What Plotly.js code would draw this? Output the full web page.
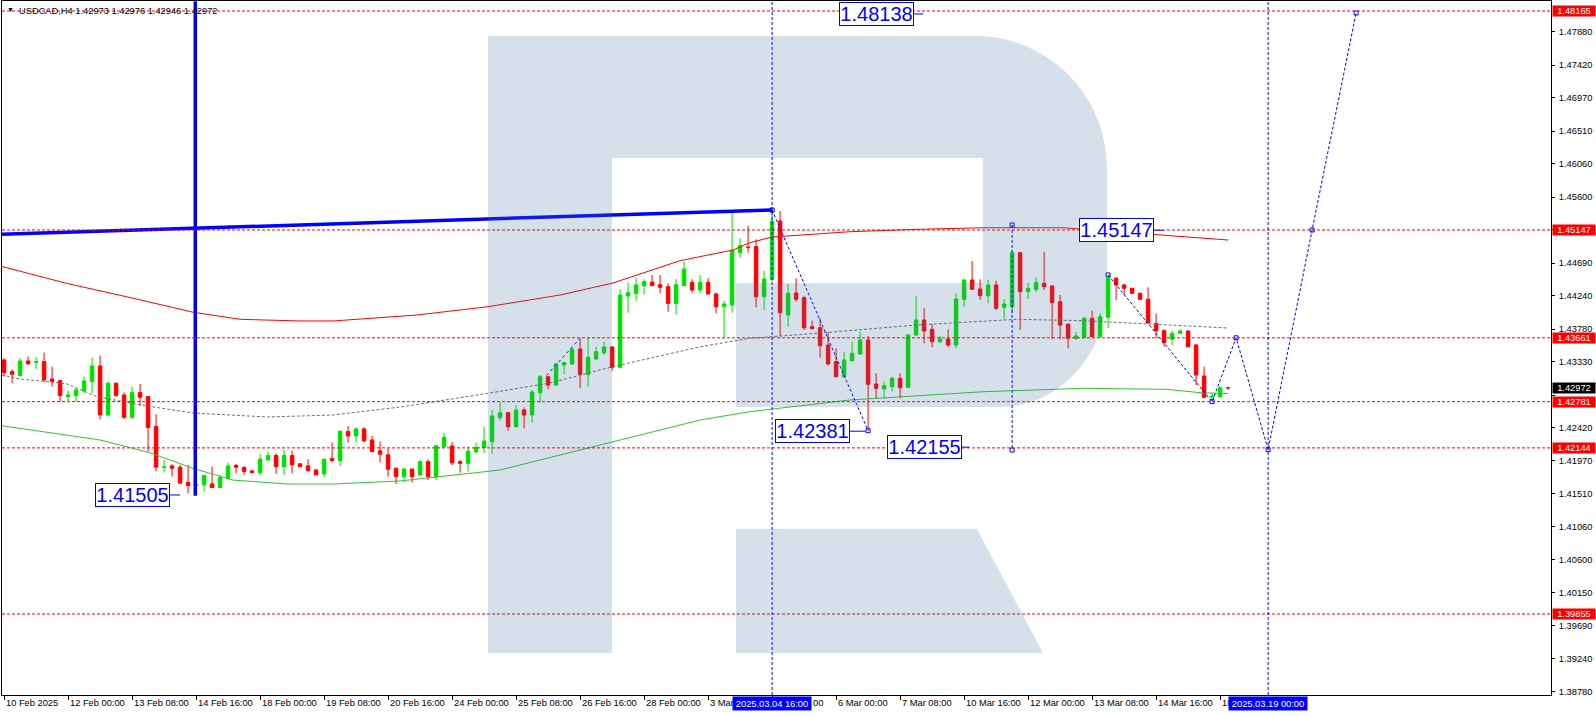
<!DOCTYPE html>
<html><head><meta charset="utf-8">
<script src="https://cdn.plot.ly/plotly-3.0.1.min.js"></script>
<style>html,body{margin:0;padding:0;background:#fff;overflow:hidden}#chart{width:1596px;height:716px}</style>
</head><body><div id="chart"></div>
<script>
// ---------- data ----------
const symbolTitle = "USDCAD,H4 1.42973 1.42976 1.42946 1.42972";
const openP = [1.43356,1.43195,1.43140,1.43342,1.43324,1.43333,1.43094,1.43071,1.42851,1.42865,
 1.42929,1.43058,1.43273,1.42599,1.43035,1.42874,1.42566,1.42906,1.42851,1.42438,
 1.41873,1.41896,1.41878,1.41667,1.41625,1.41635,1.41648,1.41598,1.41726,1.41901,
 1.41873,1.41827,1.41804,1.41979,1.42039,1.41887,1.42039,1.41924,1.41896,1.41841,
 1.41786,1.41997,1.41970,1.42369,1.42309,1.42406,1.42254,1.42103,1.42048,1.41864,
 1.41747,1.41853,1.41770,1.41954,1.41747,1.42161,1.42170,1.41954,1.41931,1.42092,
 1.42147,1.42229,1.42560,1.42629,1.42436,1.42666,1.42597,1.42905,1.43125,1.43010,
 1.43286,1.43300,1.43507,1.43157,1.43369,1.43456,1.43534,1.43254,1.44237,1.44274,
 1.44380,1.44430,1.44393,1.44366,1.44136,1.44380,1.44426,1.44320,1.44426,1.44265,
 1.44090,1.44113,1.44834,1.44912,1.44917,1.44228,1.44467,1.45271,1.43975,1.44279,
 1.44214,1.43814,1.43800,1.43562,1.43332,1.43125,1.43346,1.43438,1.43631,1.43024,
 1.42956,1.42987,1.43103,1.42979,1.43700,1.43906,1.43778,1.43607,1.43645,1.43562,
 1.44192,1.44458,1.44334,1.44241,1.44389,1.44082,1.44090,1.44834,1.44297,1.44329,
 1.44412,1.44375,1.44159,1.43851,1.43654,1.43668,1.43930,1.43676,1.43944,1.44481,
 1.44389,1.44343,1.44274,1.44192,1.43860,1.43759,1.43640,1.43723,1.43755,1.43562,
 1.43135,1.42841,1.42850,1.42973];
const highP = [1.43379,1.43227,1.43379,1.43402,1.43393,1.43457,1.43264,1.43081,1.42934,1.42966,
 1.43126,1.43388,1.43416,1.43058,1.43044,1.42906,1.42989,1.43025,1.42860,1.42608,
 1.41979,1.41919,1.41910,1.41910,1.41700,1.41772,1.41887,1.41772,1.41942,1.41924,
 1.41896,1.41841,1.42057,1.42094,1.42071,1.42117,1.42107,1.41933,1.41988,1.41845,
 1.41997,1.42218,1.42392,1.42447,1.42429,1.42429,1.42309,1.42231,1.42139,1.41873,
 1.41862,1.41853,1.41977,1.41986,1.42184,1.42353,1.42225,1.41977,1.42161,1.42220,
 1.42436,1.42666,1.42772,1.42643,1.42735,1.42703,1.42942,1.43148,1.43134,1.43318,
 1.43332,1.43530,1.43644,1.43667,1.43539,1.43608,1.43548,1.44329,1.44421,1.44481,
 1.44467,1.44526,1.44526,1.44412,1.44471,1.44710,1.44467,1.44526,1.44481,1.44283,
 1.44173,1.45399,1.45032,1.45202,1.45019,1.44582,1.45422,1.45409,1.44403,1.44481,
 1.44240,1.43900,1.43930,1.43745,1.43516,1.43470,1.43607,1.43745,1.43686,1.43172,
 1.43056,1.43125,1.43172,1.43710,1.44241,1.44068,1.43851,1.43686,1.43778,1.44274,
 1.44467,1.44720,1.44467,1.44458,1.44448,1.44192,1.44871,1.44848,1.44421,1.44495,
 1.44848,1.44389,1.44251,1.43851,1.43745,1.43952,1.44035,1.43999,1.44527,1.44495,
 1.44403,1.44352,1.44283,1.44357,1.43999,1.43778,1.43759,1.43782,1.43768,1.43576,
 1.43263,1.42896,1.42987,1.42976];
const lowP = [1.43126,1.43034,1.43140,1.43287,1.43232,1.43048,1.42989,1.42782,1.42782,1.42782,
 1.42897,1.42897,1.42539,1.42576,1.42851,1.42539,1.42539,1.42722,1.42094,1.41818,
 1.41804,1.41749,1.41658,1.41520,1.41505,1.41543,1.41589,1.41598,1.41703,1.41795,
 1.41772,1.41804,1.41763,1.41965,1.41786,1.41772,1.41795,1.41878,1.41818,1.41772,
 1.41740,1.41942,1.41896,1.42218,1.42218,1.42222,1.42084,1.41942,1.41749,1.41648,
 1.41669,1.41669,1.41770,1.41701,1.41701,1.42161,1.41908,1.41802,1.41816,1.42060,
 1.42069,1.42060,1.42519,1.42381,1.42422,1.42413,1.42491,1.42767,1.42951,1.42997,
 1.43162,1.43286,1.42965,1.42988,1.43355,1.43424,1.43208,1.43240,1.44007,1.44173,
 1.44260,1.44375,1.44274,1.44021,1.43984,1.44380,1.44283,1.44274,1.44265,1.43998,
 1.43654,1.44007,1.44765,1.44834,1.44082,1.44044,1.44440,1.43686,1.43814,1.44159,
 1.43769,1.43778,1.43387,1.43277,1.43125,1.43103,1.43332,1.43424,1.42381,1.42827,
 1.42827,1.42918,1.42827,1.42965,1.43686,1.43585,1.43530,1.43585,1.43530,1.43516,
 1.44082,1.44320,1.44182,1.44137,1.44044,1.43916,1.44000,1.43769,1.44196,1.44288,
 1.44320,1.43640,1.43640,1.43516,1.43631,1.43654,1.43668,1.43668,1.43792,1.44182,
 1.44251,1.44265,1.44182,1.43860,1.43654,1.43538,1.43562,1.43710,1.43538,1.43011,
 1.42827,1.42814,1.42841,1.42946];
const closeP = [1.43181,1.43158,1.43342,1.43305,1.43333,1.43081,1.43058,1.42865,1.42874,1.42943,
 1.43067,1.43273,1.42599,1.43035,1.42865,1.42566,1.42906,1.42842,1.42424,1.41878,
 1.41882,1.41864,1.41658,1.41625,1.41640,1.41763,1.41598,1.41736,1.41896,1.41878,
 1.41818,1.41804,1.41988,1.42039,1.41887,1.42039,1.41910,1.41887,1.41832,1.41772,
 1.41988,1.41970,1.42369,1.42309,1.42406,1.42241,1.42094,1.42057,1.41850,1.41749,
 1.41853,1.41747,1.41954,1.41747,1.42174,1.42289,1.41940,1.41931,1.42101,1.42151,
 1.42239,1.42583,1.42629,1.42436,1.42666,1.42597,1.42914,1.43125,1.43010,1.43300,
 1.43318,1.43502,1.43157,1.43392,1.43470,1.43534,1.43254,1.44251,1.44283,1.44389,
 1.44435,1.44380,1.44357,1.44136,1.44393,1.44609,1.44320,1.44426,1.44265,1.44090,
 1.44127,1.44871,1.44930,1.44905,1.44228,1.44472,1.45271,1.44007,1.44274,1.44192,
 1.43800,1.43787,1.43552,1.43300,1.43125,1.43355,1.43447,1.43631,1.43020,1.42965,
 1.43001,1.43103,1.42974,1.43700,1.43906,1.43755,1.43607,1.43645,1.43562,1.44196,
 1.44458,1.44329,1.44241,1.44389,1.44068,1.44127,1.44834,1.44297,1.44343,1.44421,
 1.44366,1.44145,1.43837,1.43654,1.43686,1.43930,1.43676,1.43952,1.44481,1.44389,
 1.44343,1.44274,1.44192,1.43869,1.43759,1.43594,1.43723,1.43755,1.43538,1.43148,
 1.42841,1.42859,1.42974,1.42972];

// visible parts of the time-axis labels (labels hidden by the highlighted boxes are cut as in the terminal)
const timeTickIdx  = [0,8,16,24,32,40,48,56,64,72,80,88,96,104,112,120,128,136,144,152];
const timeTickText = ["10 Feb 2025","12 Feb 00:00","13 Feb 08:00","14 Feb 16:00","18 Feb 00:00",
 "19 Feb 08:00","20 Feb 16:00","24 Feb 00:00","25 Feb 08:00","26 Feb 16:00","28 Feb 00:00",
 "3 Mar","","6 Mar 00:00","7 Mar 08:00","10 Mar 16:00","12 Mar 00:00",
 "13 Mar 08:00","14 Mar 16:00","18"];
const markIdx  = [96, 158];
const markText = ["2025.03.04 16:00", "2025.03.19 00:00"];

// price-scale ticks; the ones fully covered by the level / bid labels carry no text
const priceTicks = [1.4788,1.4742,1.4697,1.4651,1.4606,1.4560,1.4515,1.4469,1.4424,1.4378,
 1.4333,1.4287,1.4242,1.4197,1.4151,1.4106,1.4060,1.4015,1.3969,1.3924,1.3878];
const coveredTicks = [1.4515, 1.4287];
const levels = [1.48165,1.45147,1.43661,1.42781,1.42144,1.39855];
const lastPrice = 1.42972;

const redMaIdx = [-0.3,7.8,16.15,23.65,29.5,37,41.15,47.4,51.6,60.5,69.5,76.1,84.5,91.1,93.2,96,105.7,114.1,122.4,132.4,139.1,145.7,149.5,153];
const redMaVal = [1.44645,1.44412,1.44206,1.44013,1.43916,1.43893,1.43893,1.43938,1.43975,1.44090,1.44251,1.44416,1.44724,1.44871,1.44972,1.45050,1.45123,1.45156,1.45178,1.45178,1.45123,1.45074,1.45046,1.45009];
const grayMaIdx = [-0.3,2,5.7,7.9,11.6,17.9,23.6,32.9,41.1,49.5,60.7,68.2,76.1,87,93.2,101.6,114.1,126.6,134.9,149.5,153];
const grayMaVal = [1.43150,1.43093,1.43056,1.43025,1.42849,1.42721,1.42625,1.42570,1.42597,1.42707,1.42900,1.43038,1.43263,1.43538,1.43654,1.43723,1.43838,1.43916,1.43897,1.43814,1.43796];
const greenMaIdx = [-0.3,12,18.2,23.6,28.6,35.4,41.1,49.5,62,76.1,87,93.2,105.7,122.4,134.9,145.3,149.5,153];
const greenMaVal = [1.42450,1.42253,1.42078,1.41863,1.41701,1.41646,1.41646,1.41688,1.41839,1.42229,1.42528,1.42643,1.42804,1.42918,1.42965,1.42951,1.42905,1.42893];

const trendIdx = [-0.3, 96];
const trendVal = [1.45087, 1.45422];
const lowMarkIdx = [23.9, 23.9];
const lowMarkVal = [1.4830, 1.41485];
const waveAIdx = [96, 108];
const waveAVal = [1.45422, 1.42381];
const rangeIdx = [126, 126];
const rangeVal = [1.45216, 1.42115];
const smallIdx = [67.8, 72];
const smallVal = [1.43142, 1.43654];
const forecastIdx = [138, 151, 154, 158, 163.5, 169];
const forecastVal = [1.44527, 1.42781, 1.43661, 1.42120, 1.45147, 1.48138];

const calloutText  = ["1.48138","1.45147","1.42381","1.42155","1.41505"];
const calloutIdx   = [109.0, 139.0, 101.05, 115.08, 16.05];
const calloutVal   = [1.48124, 1.45143, 1.42374, 1.42154, 1.41495];
const calloutLinkFrom = [113.6, 143.65, 105.65, 119.7, 20.65];
const calloutLinkTo   = [114.9, 144.9, 107.7, 120.7, 22.0];

// ---------- layout helpers ----------
const W = 1596, H = 716, ML = 2, MR = 45, MT = 1, MB = 21;
const PW = W - ML - MR, PH = H - MT - MB;
const fx = x => (x - ML) / PW;
const fy = y => 1 - (y - MT) / PH;
function toPath(cmds) {
  return cmds.map(c => {
    if (c[0] === 'Z') return 'Z';
    let s = c[0];
    for (let k = 1; k < c.length; k += 2) s += (k > 1 ? ' ' : '') + fx(c[k]).toFixed(5) + ',' + fy(c[k + 1]).toFixed(5);
    return s;
  }).join(' ');
}
const wmPieces = [
  [['M',488,36],['L',612,36],['L',612,653],['L',488,653],['Z']],
  [['M',612,36],['L',975,36],['C',1047.9,36,1107,95.1,1107,168],['L',1107,290],['C',1107,354.6,1059.1,407,1000,407],
   ['L',736,407],['L',736,283],['L',983,283],['L',983,158],['L',612,158],['Z']],
  [['M',736,529],['L',977,529],['L',1043,653],['L',736,653],['Z']]
];

const FONT = 'Liberation Sans, Arial, sans-serif';
const BLUE = '#0000ff';
const DASH = '3px,2px';

const idx = openP.map((_, i) => i);

const traces = [
  {type:'scatter', mode:'lines', x:redMaIdx, y:redMaVal, line:{color:'#ff0000', width:1}, hoverinfo:'skip'},
  {type:'scatter', mode:'lines', x:grayMaIdx, y:grayMaVal, line:{color:'#707070', width:1, dash:DASH}, hoverinfo:'skip'},
  {type:'scatter', mode:'lines', x:greenMaIdx, y:greenMaVal, line:{color:'#33c433', width:1}, hoverinfo:'skip'},
  {type:'candlestick', x:idx, open:openP, high:highP, low:lowP, close:closeP,
   increasing:{line:{color:'#00e000', width:1}, fillcolor:'#00e000'},
   decreasing:{line:{color:'#ff0000', width:1}, fillcolor:'#ff0000'},
   whiskerwidth:0, hoverinfo:'skip'},
  {type:'scatter', mode:'lines', x:trendIdx, y:trendVal, line:{color:BLUE, width:3.5}, hoverinfo:'skip'},
  {type:'scatter', mode:'lines', x:lowMarkIdx, y:lowMarkVal, line:{color:BLUE, width:3.5}, hoverinfo:'skip'},
  {type:'scatter', mode:'lines+markers', x:waveAIdx, y:waveAVal, line:{color:BLUE, width:1, dash:DASH},
   marker:{symbol:'square-open', size:4, color:BLUE, line:{width:1}}, hoverinfo:'skip'},
  {type:'scatter', mode:'lines+markers', x:rangeIdx, y:rangeVal, line:{color:BLUE, width:1, dash:DASH},
   marker:{symbol:'square-open', size:4, color:BLUE, line:{width:1}}, hoverinfo:'skip'},
  {type:'scatter', mode:'lines', x:smallIdx, y:smallVal, line:{color:BLUE, width:1, dash:'dot'}, hoverinfo:'skip'},
  {type:'scatter', mode:'lines+markers', x:forecastIdx, y:forecastVal, line:{color:BLUE, width:1, dash:DASH},
   marker:{symbol:'square-open', size:4, color:BLUE, line:{width:1}}, hoverinfo:'skip', cliponaxis:false}
];
calloutText.forEach((t, k) => {
  traces.push({type:'scatter', mode:'lines', x:[calloutLinkFrom[k], calloutLinkTo[k]], y:[calloutVal[k], calloutVal[k]],
    line:{color:BLUE, width:1}, hoverinfo:'skip'});
});

const shapes = [];
levels.forEach(v => shapes.push({type:'line', xref:'paper', x0:0, x1:1, yref:'y', y0:v, y1:v,
  line:{color:'#ff0000', width:1, dash:DASH}, layer:'above'}));
markIdx.forEach(i => shapes.push({type:'line', xref:'x', x0:i, x1:i, yref:'paper', y0:0, y1:1,
  line:{color:BLUE, width:1, dash:DASH}, layer:'above'}));
wmPieces.forEach(p => shapes.push({type:'path', xref:'paper', yref:'paper', path:toPath(p),
  fillcolor:'rgba(68,114,159,0.22)', line:{width:0}, layer:'above'}));

const annotations = [];
annotations.push({xref:'paper', yref:'paper', x:0, y:1, xanchor:'left', yanchor:'top', xshift:3, yshift:-3,
  text:'▼', showarrow:false, font:{family:FONT, size:7, color:'#000'}});
annotations.push({xref:'paper', yref:'paper', x:0, y:1, xanchor:'left', yanchor:'top', xshift:15, yshift:-3,
  text:symbolTitle, showarrow:false, font:{family:FONT, size:9.3, color:'#000'}});
timeTickIdx.forEach((i, k) => { if (timeTickText[k]) annotations.push({xref:'x', yref:'paper', x:i, y:0, xanchor:'left', yanchor:'top',
  xshift:1, yshift:-2, text:timeTickText[k], showarrow:false, borderpad:0, font:{family:FONT, size:9.3, color:'#000'}}); });
// tail of the "4 Mar 16:00" label that peeks out behind the highlighted box
annotations.push({xref:'x', yref:'paper', x:markIdx[0], y:0, xanchor:'left', yanchor:'top', xshift:40, yshift:-2,
  text:'00', showarrow:false, borderpad:0, font:{family:FONT, size:9.3, color:'#000'}});
markIdx.forEach((i, k) => annotations.push({xref:'x', yref:'paper', x:i, y:0, xanchor:'center', yanchor:'top',
  yshift:-1, text:markText[k], showarrow:false, bgcolor:BLUE, width:78, height:13, borderpad:0,
  font:{family:FONT, size:9.3, color:'#fff'}}));
levels.forEach(v => annotations.push({xref:'paper', yref:'y', x:1, y:v, xanchor:'left', yanchor:'middle', xshift:1,
  text:v.toFixed(5), showarrow:false, bgcolor:'#ff0000', width:42, height:10, borderpad:0,
  font:{family:FONT, size:9.3, color:'#fff'}}));
annotations.push({xref:'paper', yref:'y', x:1, y:lastPrice, xanchor:'left', yanchor:'middle', xshift:1,
  text:lastPrice.toFixed(5), showarrow:false, bgcolor:'#000', width:42, height:10, borderpad:0,
  font:{family:FONT, size:9.3, color:'#fff'}});
calloutText.forEach((t, k) => annotations.push({xref:'x', yref:'y', x:calloutIdx[k], y:calloutVal[k],
  xanchor:'center', yanchor:'middle', text:t, showarrow:false, bgcolor:'#fff', bordercolor:BLUE, borderwidth:1,
  borderpad:0, width:73, height:22, font:{family:FONT, size:20, color:BLUE}}));

const layout = {
  width:W, height:H, margin:{l:ML, r:MR, t:MT, b:MB, pad:0},
  paper_bgcolor:'#fff', plot_bgcolor:'#fff', showlegend:false, hovermode:false,
  boxgap:0.375,
  xaxis:{range:[-0.26, 193.36], showgrid:false, zeroline:false, showline:true, linecolor:'#000', linewidth:1, mirror:true,
    tickmode:'array', tickvals:timeTickIdx, ticktext:timeTickIdx.map(() => ''), ticks:'outside', ticklen:4, tickcolor:'#000',
    showticklabels:false, rangeslider:{visible:false}, fixedrange:true},
  yaxis:{range:[1.387385, 1.483028], side:'right', showgrid:false, zeroline:false, showline:true, linecolor:'#000', linewidth:1,
    mirror:true, tickmode:'array', tickvals:priceTicks,
    ticktext:priceTicks.map(v => coveredTicks.includes(v) ? '' : v.toFixed(5)), ticks:'outside', ticklen:3,
    tickcolor:'#000', tickfont:{family:FONT, size:9.3, color:'#000'}, ticklabelstandoff:2, fixedrange:true},
  shapes, annotations
};
Plotly.newPlot('chart', traces, layout, {staticPlot:true, displayModeBar:false});
</script></body></html>
